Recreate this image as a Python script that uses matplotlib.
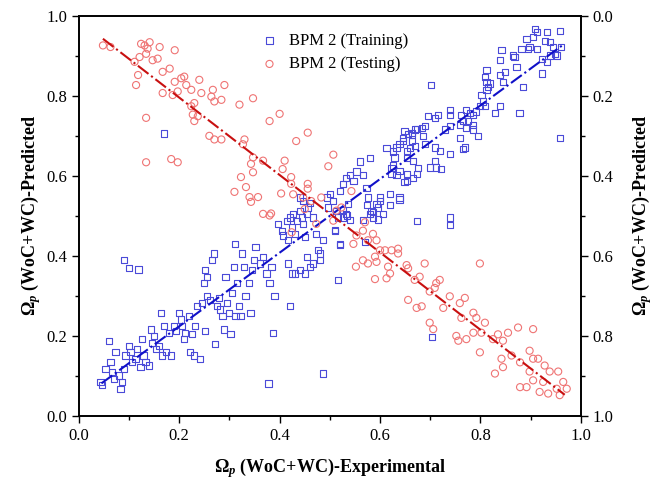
import numpy as np
import matplotlib
matplotlib.use("Agg")
import matplotlib.pyplot as plt
from matplotlib.ticker import MultipleLocator, FormatStrFormatter

plt.rcParams['font.family'] = ['Liberation Serif', 'DejaVu Serif']
plt.rcParams['mathtext.fontset'] = 'custom'
plt.rcParams['mathtext.rm'] = 'Liberation Serif:bold'
plt.rcParams['mathtext.it'] = 'Liberation Serif:bold:italic'
plt.rcParams['mathtext.bf'] = 'Liberation Serif:bold'

# training points (experimental, predicted) - left axis
train = [
    (0.043, 0.085), (0.046, 0.078), (0.060, 0.188), (0.053, 0.118), (0.063, 0.134), (0.066, 0.110),
    (0.073, 0.159), (0.070, 0.093), (0.080, 0.101), (0.083, 0.068), (0.086, 0.085), (0.090, 0.118),
    (0.093, 0.151), (0.100, 0.175), (0.103, 0.159), (0.106, 0.134), (0.113, 0.142), (0.116, 0.167),
    (0.123, 0.122), (0.126, 0.192), (0.129, 0.151), (0.133, 0.134), (0.139, 0.126), (0.143, 0.216),
    (0.146, 0.183), (0.149, 0.200), (0.153, 0.167), (0.159, 0.175), (0.163, 0.257), (0.166, 0.151),
    (0.169, 0.225), (0.173, 0.159), (0.179, 0.208), (0.183, 0.151), (0.189, 0.225), (0.193, 0.212),
    (0.199, 0.257), (0.203, 0.241), (0.206, 0.225), (0.209, 0.192), (0.212, 0.208), (0.219, 0.249),
    (0.222, 0.159), (0.226, 0.204), (0.229, 0.151), (0.232, 0.225), (0.236, 0.274), (0.242, 0.142),
    (0.246, 0.282), (0.252, 0.212), (0.256, 0.299), (0.249, 0.332), (0.252, 0.364), (0.256, 0.348),
    (0.262, 0.290), (0.266, 0.389), (0.269, 0.406), (0.272, 0.179), (0.276, 0.274), (0.279, 0.295),
    (0.282, 0.266), (0.286, 0.249), (0.289, 0.216), (0.292, 0.348), (0.295, 0.282), (0.299, 0.257),
    (0.302, 0.204), (0.305, 0.307), (0.309, 0.373), (0.311, 0.430), (0.312, 0.249), (0.315, 0.332),
    (0.319, 0.274), (0.322, 0.249), (0.325, 0.406), (0.329, 0.373), (0.332, 0.299), (0.339, 0.332),
    (0.342, 0.257), (0.345, 0.364), (0.349, 0.389), (0.352, 0.422), (0.090, 0.389), (0.100, 0.369),
    (0.119, 0.366),
    (0.361, 0.381), (0.367, 0.398), (0.374, 0.356), (0.380, 0.332), (0.384, 0.373), (0.390, 0.299),
    (0.387, 0.208), (0.397, 0.480), (0.404, 0.463), (0.407, 0.451), (0.414, 0.488), (0.417, 0.439),
    (0.420, 0.496), (0.424, 0.471), (0.427, 0.504), (0.430, 0.455), (0.434, 0.488), (0.440, 0.513),
    (0.444, 0.496), (0.447, 0.480), (0.450, 0.447), (0.454, 0.504), (0.440, 0.546), (0.447, 0.537),
    (0.457, 0.521), (0.460, 0.533), (0.467, 0.496), (0.473, 0.455), (0.480, 0.406), (0.487, 0.439),
    (0.494, 0.546), (0.500, 0.554), (0.497, 0.521), (0.507, 0.537), (0.513, 0.513), (0.517, 0.496),
    (0.510, 0.463), (0.520, 0.430), (0.527, 0.496), (0.533, 0.504), (0.537, 0.529), (0.520, 0.562),
    (0.527, 0.579), (0.533, 0.595), (0.540, 0.603), (0.547, 0.587), (0.553, 0.611), (0.560, 0.636),
    (0.566, 0.603), (0.573, 0.570), (0.580, 0.644), (0.576, 0.546), (0.583, 0.513), (0.586, 0.496),
    (0.593, 0.529), (0.600, 0.546), (0.606, 0.504), (0.613, 0.669), (0.620, 0.554), (0.623, 0.620),
    (0.626, 0.661), (0.633, 0.603), (0.639, 0.546), (0.646, 0.694), (0.653, 0.644), (0.659, 0.669),
    (0.663, 0.702), (0.666, 0.595), (0.673, 0.718), (0.676, 0.620), (0.653, 0.587), (0.673, 0.488),
    (0.417, 0.381), (0.424, 0.356), (0.430, 0.356), (0.440, 0.365), (0.450, 0.356), (0.454, 0.398),
    (0.460, 0.373), (0.467, 0.381), (0.477, 0.414), (0.480, 0.389), (0.420, 0.274), (0.517, 0.340),
    (0.378, 0.081), (0.486, 0.106), (0.739, 0.496), (0.739, 0.477), (0.703, 0.198), (0.520, 0.427),
    (0.570, 0.435), (0.510, 0.464), (0.526, 0.514), (0.534, 0.501), (0.540, 0.489), (0.566, 0.489),
    (0.574, 0.528), (0.580, 0.504), (0.586, 0.509), (0.596, 0.521), (0.596, 0.491), (0.600, 0.538),
    (0.620, 0.528), (0.639, 0.541), (0.169, 0.706),
    (0.908, 0.967), (0.912, 0.959), (0.932, 0.959), (0.958, 0.963), (0.892, 0.942), (0.905, 0.947),
    (0.928, 0.938), (0.938, 0.934), (0.945, 0.922), (0.961, 0.922), (0.882, 0.918), (0.895, 0.918),
    (0.912, 0.918), (0.898, 0.922), (0.922, 0.893), (0.932, 0.885), (0.922, 0.856), (0.948, 0.905),
    (0.938, 0.901), (0.952, 0.901), (0.865, 0.901), (0.868, 0.897), (0.872, 0.872), (0.842, 0.914),
    (0.839, 0.889), (0.839, 0.852), (0.849, 0.860), (0.845, 0.835), (0.812, 0.864), (0.809, 0.848),
    (0.812, 0.835), (0.815, 0.823), (0.819, 0.831), (0.812, 0.815), (0.802, 0.802), (0.805, 0.786),
    (0.799, 0.774), (0.809, 0.774), (0.839, 0.774), (0.829, 0.757), (0.878, 0.757), (0.885, 0.823),
    (0.702, 0.827), (0.958, 0.695),
    (0.772, 0.765), (0.779, 0.757), (0.786, 0.753), (0.792, 0.761), (0.762, 0.753), (0.766, 0.737),
    (0.776, 0.737), (0.786, 0.728), (0.759, 0.728), (0.739, 0.765), (0.739, 0.753), (0.729, 0.716),
    (0.716, 0.753), (0.709, 0.745), (0.696, 0.749), (0.739, 0.724), (0.772, 0.720), (0.786, 0.716),
    (0.796, 0.700), (0.759, 0.695), (0.769, 0.671), (0.766, 0.667), (0.739, 0.654), (0.689, 0.724),
    (0.683, 0.720), (0.669, 0.716), (0.663, 0.708), (0.656, 0.704), (0.649, 0.712), (0.646, 0.687),
    (0.639, 0.679), (0.633, 0.671), (0.653, 0.663), (0.663, 0.687), (0.669, 0.675), (0.686, 0.700),
    (0.689, 0.679), (0.709, 0.671), (0.719, 0.663), (0.709, 0.638), (0.712, 0.621), (0.722, 0.617),
    (0.699, 0.621), (0.666, 0.638), (0.673, 0.605), (0.653, 0.605), (0.649, 0.584), (0.639, 0.613),
    (0.629, 0.646), (0.626, 0.626), (0.623, 0.605),
]

# testing points (experimental, predicted) - right axis, reversed
test = [
    (0.048, 0.074), (0.063, 0.078), (0.111, 0.115), (0.121, 0.103), (0.124, 0.070), (0.131, 0.074),
    (0.137, 0.082), (0.141, 0.066), (0.134, 0.095), (0.118, 0.148), (0.114, 0.173), (0.147, 0.111),
    (0.157, 0.107), (0.161, 0.078), (0.191, 0.086), (0.167, 0.140), (0.181, 0.132), (0.167, 0.193),
    (0.187, 0.198), (0.191, 0.165), (0.197, 0.189), (0.204, 0.156), (0.210, 0.152), (0.214, 0.173),
    (0.224, 0.185), (0.240, 0.160), (0.244, 0.193), (0.230, 0.218), (0.227, 0.247), (0.230, 0.263),
    (0.237, 0.251), (0.224, 0.226), (0.267, 0.185), (0.270, 0.214), (0.264, 0.202), (0.284, 0.210),
    (0.290, 0.173), (0.320, 0.222), (0.347, 0.206), (0.134, 0.255), (0.260, 0.300), (0.270, 0.309),
    (0.284, 0.309), (0.330, 0.309), (0.327, 0.321), (0.347, 0.354), (0.343, 0.370), (0.347, 0.391),
    (0.367, 0.362), (0.380, 0.263), (0.400, 0.245), (0.410, 0.362), (0.406, 0.383), (0.423, 0.403),
    (0.433, 0.313), (0.456, 0.292), (0.323, 0.403), (0.333, 0.428), (0.310, 0.440), (0.340, 0.453),
    (0.343, 0.465), (0.357, 0.453), (0.403, 0.444), (0.423, 0.420), (0.456, 0.420), (0.456, 0.432),
    (0.134, 0.366), (0.184, 0.358), (0.197, 0.366), (0.383, 0.494),
    (0.497, 0.376), (0.507, 0.347), (0.543, 0.438), (0.483, 0.454), (0.473, 0.520), (0.424, 0.541),
    (0.367, 0.495), (0.380, 0.499), (0.447, 0.454), (0.427, 0.446), (0.450, 0.483), (0.463, 0.463),
    (0.507, 0.512), (0.513, 0.487), (0.523, 0.479), (0.547, 0.570), (0.553, 0.549), (0.566, 0.537),
    (0.570, 0.516), (0.576, 0.561), (0.586, 0.545), (0.593, 0.561), (0.600, 0.586), (0.610, 0.586),
    (0.623, 0.586), (0.636, 0.582), (0.636, 0.594), (0.590, 0.602), (0.576, 0.619), (0.566, 0.611),
    (0.593, 0.615), (0.616, 0.627), (0.620, 0.644), (0.613, 0.656), (0.590, 0.658), (0.552, 0.627),
    (0.653, 0.623), (0.656, 0.631), (0.689, 0.619), (0.669, 0.660), (0.679, 0.652), (0.699, 0.689),
    (0.712, 0.668), (0.719, 0.660), (0.709, 0.680), (0.656, 0.710), (0.673, 0.730), (0.683, 0.726),
    (0.726, 0.730), (0.739, 0.701), (0.759, 0.718), (0.769, 0.705), (0.786, 0.742), (0.792, 0.755),
    (0.762, 0.755), (0.809, 0.767), (0.802, 0.792), (0.786, 0.792), (0.772, 0.808), (0.752, 0.800),
    (0.756, 0.812), (0.799, 0.841), (0.699, 0.767), (0.706, 0.783), (0.825, 0.808), (0.845, 0.812),
    (0.835, 0.796), (0.855, 0.792), (0.875, 0.779), (0.905, 0.783), (0.898, 0.837), (0.905, 0.857),
    (0.915, 0.857), (0.928, 0.874), (0.842, 0.857), (0.845, 0.878), (0.862, 0.849), (0.879, 0.866),
    (0.829, 0.894), (0.898, 0.889), (0.938, 0.889), (0.955, 0.889), (0.905, 0.911), (0.925, 0.915),
    (0.879, 0.928), (0.892, 0.928), (0.918, 0.940), (0.935, 0.944), (0.952, 0.932), (0.965, 0.915),
    (0.972, 0.932), (0.958, 0.948), (0.799, 0.619),
]

# fitted lines: (x start, x end, intercept, slope)
train_fit = (0.045, 0.965, 0.040, 0.920)
test_fit = (0.048, 0.968, 0.011, 0.967)

train = np.array(train)
test = np.array(test)

fig = plt.figure(figsize=(6.57, 4.94), dpi=100)
ax = fig.add_axes([0.120, 0.158, 0.764, 0.810])
ax2 = ax.twinx()

h1 = ax.scatter(train[:, 0], train[:, 1], marker='s', s=20, facecolors='none',
                edgecolors='#4a4ad8', linewidths=0.8, zorder=3)
h2 = ax2.scatter(test[:, 0], test[:, 1], marker='o', s=26, facecolors='none',
                 edgecolors='#ef7474', linewidths=0.8, zorder=3)

fx = np.array(train_fit[:2])
ax.plot(fx, train_fit[2] + train_fit[3] * fx, color='#1010c8', lw=1.5, ls='-.', zorder=4)
fx = np.array(test_fit[:2])
ax2.plot(fx, test_fit[2] + test_fit[3] * fx, color='#c81010', lw=1.5, ls='-.', zorder=4)

ax.set_xlim(0, 1)
ax.set_ylim(0, 1)
ax2.set_ylim(1, 0)

for axis in (ax.xaxis, ax.yaxis, ax2.yaxis):
    axis.set_major_locator(MultipleLocator(0.2))
    axis.set_minor_locator(MultipleLocator(0.1))
    axis.set_major_formatter(FormatStrFormatter('%.1f'))
for a in (ax, ax2):
    a.tick_params(axis='both', which='major', direction='out', length=5, width=1.0, labelsize=12)
    a.tick_params(axis='both', which='minor', direction='out', length=3, width=1.0)
    for s in a.spines.values():
        s.set_linewidth(1.2)

lab_pred = r'$\mathit{\Omega_p}$ (WoC+WC)-Predicted'
ax.set_xlabel(r'$\mathit{\Omega_p}$ (WoC+WC)-Experimental', fontsize=13, fontweight='bold', labelpad=9)
ax.set_ylabel(lab_pred, fontsize=13, fontweight='bold', labelpad=2)
ax2.set_ylabel(lab_pred, fontsize=13, fontweight='bold', rotation=90, labelpad=12)

ax2.legend([h1, h2], ['BPM 2 (Training)', 'BPM 2 (Testing)'], loc='upper left',
           bbox_to_anchor=(0.33, 0.995), frameon=False, fontsize=12,
           handletextpad=0.6, labelspacing=0.45, handlelength=1.2)

fig.savefig('out.png', dpi=100)
